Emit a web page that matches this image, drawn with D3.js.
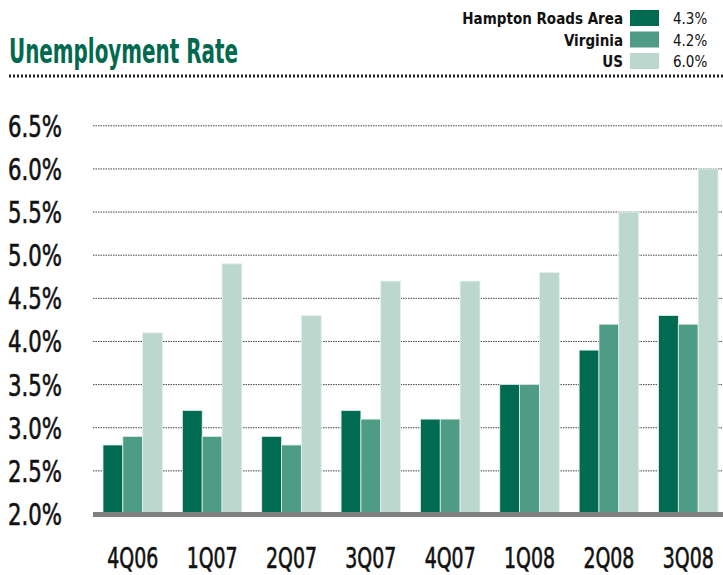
<!DOCTYPE html>
<html>
<head>
<meta charset="utf-8">
<script src="https://cdn.jsdelivr.net/npm/d3@7"></script>
<style>
  body { margin: 0; background: #fff; }
  text { font-family: "Liberation Sans Narrow", "DejaVu Sans Condensed", sans-serif; }
</style>
</head>
<body>
<svg id="chart"></svg>
<script>
// data
let quarters = ['4Q06', '1Q07', '2Q07', '3Q07', '4Q07', '1Q08', '2Q08', '3Q08']
let seriesNames = ['Hampton Roads Area', 'Virginia', 'US']
let hamptonRoads = [2.8, 3.2, 2.9, 3.2, 3.1, 3.5, 3.9, 4.3]
let virginia = [2.9, 2.9, 2.8, 3.1, 3.1, 3.5, 4.2, 4.2]
let us = [4.1, 4.9, 4.3, 4.7, 4.7, 4.8, 5.5, 6.0]
let legendValues = ['4.3%', '4.2%', '6.0%']
let yTicks = [2.0, 2.5, 3.0, 3.5, 4.0, 4.5, 5.0, 5.5, 6.0, 6.5]

let colors = ['#006b50', '#4e9c85', '#bcd8ce']
let allSeries = [hamptonRoads, virginia, us]

let width = 723, height = 575

let svg = d3.select('svg#chart')
    .attr('width', width)
    .attr('height', height)

// squeeze a text horizontally so it is w pixels wide (condensed look)
function squeeze(sel, w, posX, posY) {
    sel.each(function (d) {
        let natural = this.getComputedTextLength()
        let k = Math.min(1, w / natural)
        d3.select(this).attr('transform', `translate(${posX(d)},${posY(d)}) scale(${k},1)`)
    })
}

// title + dotted rule
svg.append('text')
    .attr('x', 9)
    .attr('y', 63)
    .attr('font-size', 34)
    .attr('font-weight', 'bold')
    .attr('fill', '#00694e')
    .attr('textLength', 229)
    .attr('lengthAdjust', 'spacingAndGlyphs')
    .text('Unemployment Rate')

svg.append('line')
    .attr('x1', 9).attr('x2', width)
    .attr('y1', 76).attr('y2', 76)
    .attr('stroke', '#222')
    .attr('stroke-width', 3)
    .attr('stroke-dasharray', '2,2')

// legend
let legend = svg.append('g')
seriesNames.forEach((name, i) => {
    let yTop = 10 + i * 21.5
    legend.append('rect')
        .attr('x', 630).attr('y', yTop)
        .attr('width', 29).attr('height', 16)
        .attr('fill', colors[i])
    legend.append('text')
        .attr('x', 623).attr('y', yTop + 14)
        .attr('text-anchor', 'end')
        .attr('font-size', 15)
        .attr('font-weight', 'bold')
        .attr('fill', '#111')
        .text(name)
    legend.append('text')
        .attr('x', 673).attr('y', yTop + 14)
        .attr('font-size', 15)
        .attr('fill', '#111')
        .text(legendValues[i])
})

// scales
let y = d3.scaleLinear()
    .domain([2.0, 6.5])
    .range([514, 125.8])

let x0 = d3.scaleBand()
    .domain(quarters)
    .range([103, 718])
    .paddingInner(0.25)

let x1 = d3.scaleBand()
    .domain(seriesNames)
    .range([0, x0.bandwidth()])

// gridlines
svg.append('g')
    .selectAll('line')
    .data(yTicks.slice(1))
    .enter()
    .append('line')
    .attr('x1', 93).attr('x2', width)
    .attr('y1', d => y(d)).attr('y2', d => y(d))
    .attr('stroke', '#444')
    .attr('stroke-width', 1)
    .attr('stroke-dasharray', '1.5,1')

// y labels
svg.append('g')
    .selectAll('text')
    .data(yTicks)
    .enter()
    .append('text')
    .attr('text-anchor', 'end')
    .attr('font-size', 31)
    .attr('fill', '#111')
    .attr('stroke', '#111')
    .attr('stroke-width', 0.6)
    .text(d => d3.format('.1f')(d) + '%')
    .call(squeeze, 54, d => 62, d => y(d) + 11)

// bars
let groups = svg.append('g')
    .selectAll('g')
    .data(quarters)
    .enter()
    .append('g')
    .attr('transform', d => `translate(${x0(d)},0)`)

groups.selectAll('rect')
    .data((q, qi) => seriesNames.map((s, si) => ({ s: s, si: si, v: allSeries[si][qi] })))
    .enter()
    .append('rect')
    .attr('x', d => x1(d.s))
    .attr('y', d => y(d.v))
    .attr('width', x1.bandwidth())
    .attr('height', d => y(2.0) - y(d.v))
    .attr('fill', d => colors[d.si])
    .attr('stroke', '#e4f0eb')
    .attr('stroke-width', 0.8)

// baseline
svg.append('rect')
    .attr('x', 93).attr('y', 512)
    .attr('width', width - 93).attr('height', 5)
    .attr('fill', '#808080')

// x labels
svg.append('g')
    .selectAll('text')
    .data(quarters)
    .enter()
    .append('text')
    .attr('text-anchor', 'middle')
    .attr('font-size', 28)
    .attr('fill', '#111')
    .attr('stroke', '#111')
    .attr('stroke-width', 0.6)
    .text(d => d)
    .call(squeeze, 51, d => x0(d) + x0.bandwidth() / 2, d => 568)
</script>
</body>
</html>
